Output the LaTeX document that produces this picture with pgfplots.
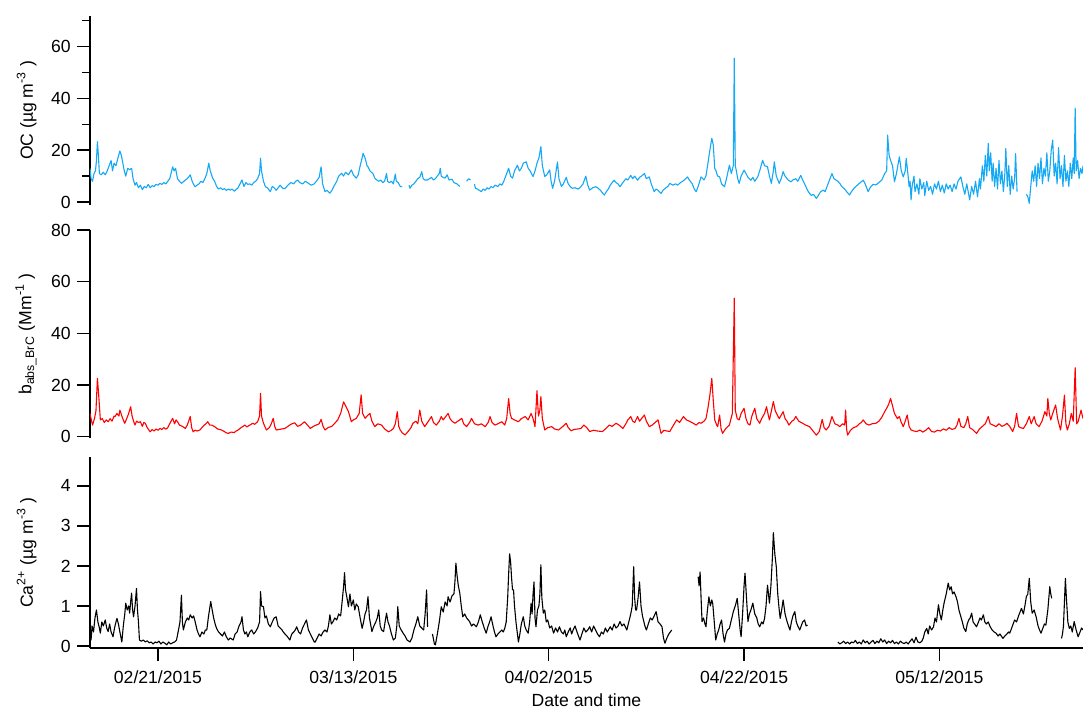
\documentclass[border=0pt]{standalone}
\usepackage{fontspec}
\setmainfont{Liberation Sans}
\usepackage{pgfplots}
\pgfplotsset{compat=1.18}
\definecolor{ocblue}{RGB}{20,168,245}
\pgfplotsset{
  panel/.style={
    scale only axis, width=496.5pt,
    xmin=-6.96, xmax=94.7,
    axis lines*=left,
    axis line style={line width=1pt, black},
    tick align=outside,
    major tick length=6.5pt, minor tick length=4pt,
    tick style={line width=0.75pt, black},
    font=\fontsize{8.8}{10.5}\selectfont,
    /pgf/number format/assume math mode=true,
    yticklabel style={anchor=east, inner sep=0pt, xshift=-3pt},
    every axis y label/.style={at={(axis description cs:0,0.5)}, rotate=90, anchor=south, inner sep=0pt, yshift=26.5pt},
    unbounded coords=jump,
  },
  series/.style={no marks, line width=0.55pt, line join=round},
}
\begin{document}
\begin{tikzpicture}
\useasboundingbox (0,0) rectangle (541.5pt,354pt);
% ---------------- OC ----------------
\begin{axis}[panel, at={(45pt,251.7pt)}, anchor=south west, height=94.3pt,
  ymin=-1, ymax=71.8, ytick={0,20,40,60}, minor ytick={10,30,50,70},
  xtick=\empty, x axis line style={draw=none},
  ylabel={OC (µg m\textsuperscript{-3} )}]
\addplot[series, ocblue] table {
-6.96 13
-6.85 9
-6.7 8
-6.55 11
-6.4 12
-6.3 16
-6.2 23.3
-6.1 18
-6.0 11
-5.8 10.5
-5.6 11.5
-5.4 10.5
-5.2 12
-5.0 14
-4.8 16
-4.65 12
-4.5 15
-4.3 14
-4.1 17
-3.9 19.7
-3.75 18
-3.6 15
-3.45 12
-3.3 10
-3.1 13
-2.9 12.5
-2.7 13
-2.55 9
-2.35 6.5
-2.2 7.5
-2.0 5.5
-1.8 6.5
-1.6 4.8
-1.4 6
-1.2 5.5
-1.0 6.8
-0.8 5.5
-0.6 6.3
-0.4 6
-0.2 6.8
0.0 6.5
0.2 7.2
0.4 6.8
0.6 7.5
0.8 7
1.0 8
1.2 9
1.4 12
1.5 13.6
1.65 12
1.8 13
2.0 9
2.2 8
2.4 7.2
2.6 7.8
2.8 8.5
3.0 9
3.2 10
3.3 10.5
3.5 8
3.65 6.8
3.8 5.9
4.0 6.5
4.2 7
4.4 8
4.6 7.5
4.8 9
5.0 11
5.2 15
5.35 12
5.6 9.2
5.8 8
6.0 6
6.2 5
6.4 5.5
6.6 4.8
6.8 5.2
7.0 4.5
7.2 5
7.4 4.6
7.6 5
7.8 4.2
8.0 4.8
8.2 5.5
8.4 7
8.6 8.5
8.8 6
9.0 7.5
9.2 6.8
9.4 7
9.6 6.5
9.8 7.5
10.0 8
10.2 9
10.4 11
10.5 16.9
10.6 12
10.8 8
11.0 5.9
11.2 5.5
11.5 4
11.7 6
11.9 5.5
12.1 4.5
12.3 5.5
12.5 6.5
12.8 5.2
13.0 5.2
13.3 6.5
13.6 7.5
13.9 7
14.1 8
14.3 8.5
14.5 7.5
14.8 7
15.1 8
15.4 7.2
15.7 6.5
16.0 7
16.3 8.5
16.5 9.5
16.7 13.6
16.85 7
17.1 4
17.3 4.5
17.6 3.4
17.8 4.5
18.0 6
18.3 8
18.5 10
18.8 11.1
19.0 10
19.2 11.5
19.5 10.5
19.8 12.4
20.0 10.5
20.3 9.2
20.5 10.5
20.7 14
20.9 17
21.0 18.8
21.2 17
21.4 14
21.5 13.6
21.7 12
22.0 11
22.2 9.2
22.4 8.5
22.6 8
22.8 8.5
23.0 7.5
23.2 8
23.4 11
23.5 8
23.7 7.5
23.9 8
24.1 7
24.3 10.8
24.4 8
24.6 7.5
24.8 6
25.0 5.9
nan nan
25.7 6.5
25.8 5.3
26.0 6.5
26.2 7
26.4 8
26.6 9
26.8 9.5
27.0 11.7
27.15 9
27.3 8.5
27.6 8.5
27.8 9
28.0 9.5
28.2 8.5
28.4 9
28.6 10
28.8 11
28.9 13
29.0 10
29.2 9.5
29.4 9.2
29.6 10.5
29.8 8.5
30.1 8.8
30.3 7.5
30.6 7
30.9 6
nan nan
31.6 8
31.8 9
32.0 8.5
nan nan
32.4 7
32.5 5.3
32.7 5
32.9 4.5
33.1 4
33.3 5
33.5 4.5
33.7 5.5
33.9 5
34.1 6
34.3 5.5
34.5 6.5
34.8 6
35.0 7
35.2 6.5
35.4 8
35.6 10
35.9 13
36.1 10
36.3 9.2
36.5 12
36.8 14.2
37.0 12
37.2 13
37.4 15
37.7 15.5
37.9 13
38.1 12
38.4 9.8
38.6 12
38.8 15
39.0 17
39.2 21.4
39.35 14
39.6 9.8
39.8 10.5
40.1 12.4
40.25 8
40.4 5.3
40.6 8
40.9 15.5
41.05 9
41.3 6
41.5 7
41.8 9.5
42.0 7
42.2 6
42.4 5.3
42.7 5.5
43.0 5
43.2 5.5
43.5 6.9
43.8 10
44.0 6.5
44.2 4.6
44.5 5.5
44.8 5.9
45.0 5.5
45.3 4.5
45.5 3.5
45.7 2.7
45.9 4
46.1 5
46.3 6.5
46.5 7.5
46.7 8.4
46.9 7.5
47.1 7
47.3 5.9
47.5 7
47.7 8
47.9 9
48.1 8.5
48.4 10.3
48.6 9
48.8 10
49.1 8.4
49.3 9.5
49.5 10
49.8 11
50.0 9
50.3 9.7
50.5 7
50.8 4
51.0 5
51.2 4.5
51.5 3.3
51.7 4.5
52.0 5.5
52.2 6
52.4 7.2
52.7 6.5
53.0 7
53.2 6.5
53.4 7.2
53.7 8
53.9 8.5
54.2 9.7
54.4 8.5
54.7 7
54.9 5
55.1 4
55.3 6
55.6 9.7
55.9 8.5
56.1 10
56.3 14.9
56.5 20
56.7 24.6
56.85 22
57.0 13
57.1 12.3
57.3 10
57.5 9.7
57.7 7
58.0 5.9
58.2 9
58.5 14.2
58.7 11
58.9 14
59.0 55.5
59.1 14
59.2 12.3
59.35 9
59.5 7.2
59.7 10
60.0 12.3
60.2 11
60.4 9.5
60.7 8.4
60.9 9.5
61.1 8
61.4 9.7
61.6 12
61.9 16.1
62.1 14
62.4 13.6
62.6 10
62.8 7.2
63.0 12
63.1 15.5
63.3 10
63.6 7.2
63.8 9
64.0 11.7
64.2 10
64.5 8.5
64.8 7.8
65.0 8.5
65.3 9
65.5 8
65.8 10.3
66.0 8.5
66.2 7
66.5 4.5
66.7 3.3
66.9 2.5
67.1 3
67.4 1.4
67.6 2.5
67.8 3.8
68.1 4.6
68.3 4
68.5 6
68.7 8
69.0 11
69.2 9
69.4 8.5
69.6 8
69.8 7.2
70.0 6
70.3 5
70.5 4
70.8 2.7
71.0 4
71.3 5.5
71.6 6.5
71.9 7.5
72.2 8.4
72.4 7
72.7 4
72.9 5.5
73.2 6.8
73.5 6.6
73.8 7.5
74.1 8.5
74.4 11
74.6 12
74.7 25.8
74.85 18
75.0 16.1
75.2 14
75.4 7.8
75.6 11
75.9 17.4
76.1 12
76.3 9.7
76.5 12
76.6 16.8
76.8 10
76.9 5.9
77.0 8
77.1 0.8
77.2 6
77.4 10
77.5 4
77.7 7
77.9 3
78.0 9
78.2 5
78.4 7.5
78.5 2.5
78.7 8
78.9 4.5
79.1 6
79.3 3
79.5 7
79.7 5
79.9 8
80.1 4
80.3 6.5
80.5 3.5
80.7 7
80.9 5
81.1 6.5
81.3 4
81.5 7
81.7 5
81.9 8
82.2 9.7
82.4 6
82.6 3
82.8 7
83.1 0.8
83.3 6
83.5 3
83.7 8
83.9 2
84.1 9
84.2 5
84.4 14
84.55 8
84.7 18
84.85 10
85.0 22.6
85.1 12
85.25 19
85.4 8
85.5 15
85.65 6
85.8 13
85.95 5
86.1 16
86.25 7
86.4 12
86.55 4
86.7 11
86.8 20.7
86.95 6
87.1 14
87.25 3
87.4 10
87.55 5
87.7 9
87.8 18.7
87.95 4
nan nan
88.9 3
89.05 2
89.2 -0.5
89.35 6
89.5 12
89.65 8
89.8 14
89.95 6
90.1 15
90.25 9
90.4 17
90.55 7
90.7 13
90.85 10
91.0 19
91.15 8
91.3 12
91.45 20
91.6 23.9
91.75 10
91.9 15
92.05 7
92.2 21
92.35 9
92.5 14
92.65 6
92.8 18
92.95 8
93.1 12
93.25 6
93.4 15
93.55 9
93.7 17
93.8 11
93.9 36.2
94.0 12
94.15 16
94.3 9
94.45 13
94.6 11
94.7 14
};
\end{axis}
% ---------------- b_abs_BrC ----------------
\begin{axis}[panel, at={(45pt,135pt)}, anchor=south west, height=104pt,
  ymin=-0.5, ymax=80, ytick={0,20,40,60,80},
  xtick=\empty, x axis line style={draw=none},
  ylabel={b\textsubscript{abs\_BrC} (Mm\textsuperscript{-1} )}]
\addplot[series, red] table {
-6.96 9
-6.8 6
-6.7 4.5
-6.5 7
-6.35 10
-6.2 22.6
-6.05 15
-5.9 6.5
-5.7 7
-5.5 5.5
-5.3 6.5
-5.1 5.8
-4.9 7
-4.7 6
-4.5 8
-4.4 7.8
-4.2 9
-4.0 8
-3.9 10.3
-3.7 8
-3.5 6
-3.4 5.2
-3.2 7
-3.0 9
-2.8 11.6
-2.65 8
-2.5 6
-2.35 4.5
-2.2 6
-2.0 5.5
-1.8 5.8
-1.6 4
-1.45 5.5
-1.3 5.2
-1.1 3.5
-0.8 1.9
-0.6 2.8
-0.4 2.2
-0.2 3
0.0 2.5
0.2 3.2
0.4 2.8
0.6 3.5
0.8 2.9
1.0 3.5
1.2 5
1.5 7.1
1.7 5
1.85 6.5
2.0 5.8
2.2 4.5
2.5 4
2.8 3.2
3.0 4.5
3.3 7.8
3.45 3.5
3.6 1.9
3.8 2.5
4.0 2.2
4.3 2.6
4.6 4
4.9 5
5.1 5.8
5.3 4.5
5.5 4.5
5.8 3.9
6.1 3
6.5 2.6
6.8 2
7.0 1.5
7.2 1.3
7.5 1.8
7.8 1.6
8.0 2.2
8.2 2.6
8.5 3.5
8.9 4.5
9.1 3.8
9.4 4.5
9.7 5.2
9.9 4.8
10.2 5.8
10.4 8
10.5 16.8
10.6 8
10.8 5.2
11.1 2.6
11.4 3.5
11.6 5
11.8 7.1
11.95 4
12.1 2.6
12.4 2.8
12.7 3
13.0 3.2
13.3 4
13.6 4.8
14.0 5.4
14.3 4
14.6 4.5
15.0 5.8
15.3 4.5
15.6 3.2
15.9 4
16.2 4.5
16.5 5
16.7 6.7
16.9 4
17.1 2.6
17.4 3.5
17.8 4
18.1 5.2
18.4 6.5
18.7 9
19.0 13.5
19.2 12
19.5 9.7
19.8 5.8
20.0 6.5
20.3 7.1
20.6 9
20.8 16.2
20.95 9
21.2 7.1
21.4 8
21.7 9
21.9 6
22.2 3.9
22.5 5
22.9 4.5
23.2 3
23.6 1.9
23.9 2.5
24.1 3.2
24.3 5
24.5 9.7
24.65 4
24.8 2.6
25.0 1.5
25.3 0.7
25.6 2
25.9 3.5
26.1 5.2
26.4 6
26.6 5
26.8 10.3
27.0 6
27.3 3.9
27.6 5.5
28.0 7.8
28.2 5.5
28.5 4.5
28.8 6
29.0 7.8
29.2 6.5
29.5 8
29.7 9
29.9 7
30.1 6
30.4 5.2
30.7 6
31.1 7.1
31.3 5
31.6 3.9
31.9 5.5
32.1 7.1
32.4 5
32.8 4.5
33.1 5
33.5 3.9
33.8 5.5
34.0 7.8
34.2 5.5
34.5 4.5
34.8 5
35.2 5.8
35.5 4.5
35.7 7
35.9 14.8
36.05 9
36.2 7.1
36.5 6.5
36.9 5.8
37.2 7
37.6 7.8
37.9 6.5
38.2 9
38.4 7
38.6 3.9
38.8 17.8
38.95 8
39.1 10.3
39.2 15.5
39.35 7
39.6 2.6
39.9 3.5
40.3 3.9
40.6 3
41.0 2.6
41.3 3.5
41.6 4.5
41.8 5.2
42.0 3.5
42.3 2.3
42.6 2.8
43.0 3
43.3 3.2
43.6 4.5
43.9 3.5
44.2 2
44.6 2.5
45.0 2.2
45.5 2
45.8 3
46.2 4.5
46.5 4
46.9 5.2
47.2 4.5
47.6 3.2
47.9 5
48.1 6.5
48.4 7.8
48.6 6
48.8 5.5
49.1 7.8
49.3 6
49.5 7
49.8 8.4
50.0 6
50.3 3.9
50.6 4.5
50.9 5.5
51.2 6.5
51.5 1.3
51.8 2.5
52.1 2.2
52.4 2
52.7 4
53.1 6.5
53.4 5.5
53.8 7.8
54.1 6.5
54.4 6
54.8 5.2
55.1 4.5
55.4 5.5
55.6 5.2
55.9 6
56.1 7
56.3 11
56.5 16
56.7 22.6
56.85 14
57.0 6.5
57.2 4.5
57.3 3.9
57.5 8.4
57.65 3
57.8 1.3
58.1 3
58.5 4.5
58.8 9
59.0 53.6
59.1 10.3
59.3 7
59.5 6.5
59.7 9
60.0 11
60.2 7
60.4 5
60.6 4.5
60.8 8
61.1 11
61.3 7
61.6 5.2
61.8 7
62.1 9
62.3 11.6
62.5 8
62.6 6.5
62.8 10
63.0 13.6
63.2 10
63.4 8.4
63.6 7
64.0 9.7
64.2 7
64.4 6
64.6 4.5
64.9 6
65.1 6.5
65.3 7.8
65.6 6
66.0 5.2
66.3 4.5
66.7 3.9
67.0 2.5
67.4 0.6
67.7 2
68.0 6.7
68.2 3.5
68.4 2.6
68.7 4
69.0 7.8
69.3 5
69.6 4.5
69.8 3.9
70.1 5
70.3 4.5
70.4 10.3
70.5 3
70.6 0.6
70.9 2.5
71.2 3.5
71.5 3.9
71.8 5
72.0 5.5
72.2 6.5
72.5 5
72.8 4.5
73.1 5
73.5 5.2
73.8 6
74.1 7.5
74.4 9.7
74.6 11
74.8 12.5
75.0 14.8
75.2 12
75.4 9
75.7 7
75.9 7.8
76.1 5.5
76.3 3.9
76.5 6
76.7 8.4
76.9 4
77.1 2.6
77.4 2.2
77.7 2
78.0 2.6
78.3 1.8
78.6 2.5
78.9 3.5
79.2 2
79.5 1.8
79.8 2.5
80.1 2.2
80.4 3
80.7 2.5
81.0 3.5
81.3 2.8
81.6 3.2
81.8 4.5
82.0 7.1
82.2 4
82.5 3.5
82.7 5
82.9 7.8
83.1 3.5
83.4 2.8
83.8 1.3
84.1 3
84.4 4
84.7 5
85.0 7.8
85.2 5
85.5 4.5
85.8 3.9
86.1 5
86.4 4
86.7 4.5
86.9 5.2
87.2 4
87.5 2
87.7 4
87.9 9
88.1 4
88.3 3.5
88.6 3.2
88.9 5
89.2 7.8
89.4 5
89.7 7.8
89.9 5
90.2 3.9
90.5 6
90.8 9.7
91.0 8
91.1 14.8
91.25 9
91.4 6.5
91.6 9
91.9 12.3
92.1 7
92.4 2.6
92.6 8
92.8 16.1
92.95 5
93.1 2.6
93.3 5
93.5 9
93.7 6
93.9 26.7
94.05 5
94.2 5.8
94.35 8
94.5 10.3
94.7 7
};
\end{axis}
% ---------------- Ca2+ ----------------
\begin{axis}[panel, at={(45pt,30pt)}, anchor=south west, height=95.5pt,
  ymin=-0.05, ymax=4.72, ytick={0,1,2,3,4},
  xtick={0,20,40,60,80},
  xticklabels={02/21/2015,03/13/2015,04/02/2015,04/22/2015,05/12/2015},
  xticklabel style={anchor=base, yshift=-11pt},
  xlabel={Date and time},
  xlabel style={at={(axis description cs:0.5,0)}, anchor=base, yshift=-29pt},
  ylabel={Ca\textsuperscript{2+} (µg m\textsuperscript{-3} )}]
\addplot[series, black] table {
-6.96 0.4
-6.85 0.15
-6.75 0.5
-6.6 0.35
-6.45 0.7
-6.3 0.9
-6.15 0.6
-6.0 0.45
-5.9 0.32
-5.75 0.6
-5.6 0.5
-5.4 0.65
-5.25 0.45
-5.1 0.36
-4.95 0.55
-4.8 0.35
-4.6 0.23
-4.45 0.45
-4.3 0.6
-4.2 0.69
-4.05 0.55
-3.9 0.35
-3.7 0.1
-3.55 0.5
-3.4 0.8
-3.3 1.07
-3.15 0.9
-3.0 1.0
-2.9 0.82
-2.8 1.1
-2.7 1.32
-2.6 0.9
-2.5 0.73
-2.35 1.0
-2.2 1.44
-2.1 0.9
-2.0 0.61
-1.9 0.15
-1.7 0.12
-1.5 0.15
-1.3 0.1
-1.1 0.13
-0.9 0.08
-0.7 0.1
-0.5 0.05
-0.3 0.1
-0.1 0.08
0.1 0.12
0.3 0.05
0.5 0.1
0.7 0.07
0.9 0.03
1.1 0.1
1.3 0.05
1.5 0.08
1.7 0.1
1.9 0.15
2.1 0.4
2.25 0.6
2.4 1.27
2.5 0.6
2.6 0.4
2.8 0.6
3.0 0.7
3.15 0.65
3.3 0.78
3.5 0.7
3.65 0.75
3.8 0.61
4.0 0.4
4.15 0.3
4.3 0.23
4.5 0.35
4.7 0.3
4.85 0.4
5.0 0.4
5.15 0.7
5.3 0.95
5.4 1.11
5.55 0.9
5.7 0.7
5.85 0.55
6.0 0.44
6.2 0.35
6.4 0.3
6.6 0.25
6.8 0.35
7.0 0.23
7.2 0.15
7.4 0.2
7.7 0.15
7.9 0.3
8.1 0.35
8.3 0.5
8.5 0.6
8.6 0.73
8.75 0.4
8.9 0.3
9.05 0.35
9.2 0.23
9.4 0.35
9.6 0.4
9.8 0.3
10.0 0.36
10.2 0.45
10.4 0.6
10.5 1.36
10.6 1.0
10.8 0.98
10.95 0.7
11.1 0.75
11.3 0.55
11.5 0.48
11.7 0.6
11.9 0.7
12.1 0.73
12.3 0.5
12.5 0.45
12.7 0.4
12.8 0.36
13.0 0.3
13.2 0.25
13.35 0.2
13.5 0.15
13.7 0.3
13.9 0.35
14.05 0.4
14.2 0.48
14.4 0.35
14.6 0.3
14.8 0.45
15.0 0.55
15.2 0.65
15.4 0.4
15.6 0.3
15.8 0.2
16.0 0.1
16.1 0.1
16.3 0.2
16.5 0.3
16.7 0.25
16.9 0.35
17.1 0.4
17.3 0.35
17.45 0.5
17.6 0.78
17.75 0.55
17.9 0.6
18.1 0.7
18.3 0.65
18.5 0.8
18.7 0.75
18.85 1.1
19.0 1.48
19.1 1.83
19.2 1.4
19.35 1.2
19.5 0.98
19.65 1.3
19.8 1.0
20.0 1.15
20.15 0.9
20.3 1.05
20.5 0.98
20.7 0.7
20.9 0.44
21.05 0.6
21.2 0.8
21.35 0.9
21.5 1.23
21.65 0.7
21.8 0.5
21.9 0.36
22.1 0.5
22.3 0.6
22.45 0.7
22.6 0.9
22.75 0.5
22.9 0.4
23.1 0.36
23.25 0.6
23.4 0.82
23.55 0.6
23.7 0.5
23.9 0.3
24.1 0.15
24.3 0.2
24.45 0.5
24.55 0.98
24.7 0.5
24.9 0.4
25.1 0.32
25.3 0.25
25.5 0.15
25.8 0.1
26.0 0.2
26.2 0.4
26.4 0.55
26.6 0.73
26.8 0.5
27.0 0.45
27.2 0.4
27.35 0.8
27.5 1.4
27.6 0.48
nan nan
28.1 0.3
28.3 0.05
28.4 0.03
28.6 0.3
28.8 0.6
29.0 0.98
29.2 0.85
29.4 1.1
29.6 1.0
29.7 1.23
29.9 1.1
30.1 1.25
30.3 1.3
30.4 1.6
30.5 2.07
30.6 1.8
30.75 1.5
30.9 1.32
31.05 1.0
31.2 0.73
31.4 0.8
31.6 0.7
31.9 0.61
32.1 0.5
32.3 0.55
32.6 0.48
32.8 0.6
33.0 0.78
33.2 0.6
33.4 0.45
33.6 0.32
33.8 0.5
33.95 0.6
34.1 0.73
34.3 0.5
34.45 0.35
34.6 0.23
34.8 0.3
35.0 0.35
35.2 0.4
35.35 0.35
35.5 0.44
35.65 0.6
35.8 1.2
35.9 1.8
36.0 2.3
36.1 2.1
36.2 1.7
36.3 1.4
36.4 1.4
36.5 1.0
36.65 0.6
36.8 0.3
36.9 0.1
37.05 0.3
37.2 0.55
37.4 0.73
37.55 0.5
37.7 0.4
37.9 0.32
38.05 0.6
38.2 1.07
38.3 0.8
38.4 1.3
38.5 1.6
38.6 0.7
38.7 0.48
38.85 0.9
39.0 1.0
39.1 1.3
39.2 2.03
39.3 1.2
39.45 0.82
39.6 0.9
39.75 0.6
39.9 0.65
40.1 0.45
40.3 0.5
40.5 0.32
40.7 0.45
40.9 0.35
41.1 0.48
41.3 0.35
41.5 0.3
41.65 0.4
41.8 0.23
42.0 0.35
42.2 0.45
42.35 0.3
42.5 0.4
42.7 0.5
42.9 0.35
43.05 0.25
43.2 0.15
43.4 0.3
43.6 0.45
43.8 0.35
44.0 0.4
44.2 0.48
44.4 0.35
44.6 0.5
44.8 0.4
45.0 0.3
45.2 0.23
45.4 0.35
45.6 0.3
45.8 0.45
46.0 0.35
46.3 0.48
46.5 0.4
46.7 0.55
46.9 0.45
47.1 0.5
47.3 0.61
47.5 0.5
47.7 0.55
47.9 0.45
48.0 0.4
48.2 0.6
48.4 0.8
48.55 1.0
48.7 1.98
48.8 1.2
48.9 0.9
49.0 0.9
49.15 1.2
49.3 1.6
49.45 1.0
49.6 0.75
49.7 0.65
49.85 0.5
50.0 0.4
50.2 0.55
50.4 0.7
50.6 0.65
50.8 0.75
51.0 0.86
51.2 0.6
51.4 0.55
51.6 0.48
51.75 0.2
51.9 0.07
52.1 0.2
52.3 0.3
52.45 0.35
52.6 0.4
nan nan
55.3 1.73
55.4 1.5
55.5 1.85
55.6 1.2
55.7 0.61
55.85 0.7
56.0 0.55
56.1 0.48
56.25 0.9
56.4 1.23
56.55 1.0
56.7 1.15
56.8 1.05
56.95 0.6
57.1 0.15
57.25 0.3
57.4 0.4
57.55 0.55
57.7 0.65
57.85 0.3
58.0 0.1
58.15 0.3
58.3 0.4
58.5 0.44
58.65 0.6
58.8 0.75
58.9 0.86
59.1 1.0
59.3 1.19
59.45 0.8
59.6 0.4
59.7 0.23
59.85 0.8
60.0 1.5
60.1 1.82
60.25 1.2
60.4 0.61
60.55 0.8
60.7 0.9
60.9 1.07
61.1 0.8
61.3 0.7
61.45 0.55
61.6 0.48
61.8 0.6
61.95 0.55
62.1 0.69
62.25 1.0
62.4 1.52
62.5 1.3
62.6 1.07
62.75 1.5
62.9 2.2
63.0 2.83
63.15 2.3
63.3 1.98
63.45 1.3
63.6 0.9
63.7 0.69
63.85 0.9
64.0 1.15
64.2 0.8
64.4 0.61
64.55 0.5
64.7 0.4
64.85 0.6
65.0 0.75
65.2 0.86
65.35 0.6
65.5 0.5
65.7 0.4
65.85 0.5
66.0 0.6
66.2 0.65
66.35 0.5
66.5 0.52
nan nan
69.6 0.1
69.8 0.05
70.0 0.08
70.2 0.12
70.4 0.06
70.6 0.1
70.8 0.05
71.0 0.1
71.2 0.08
71.4 0.14
71.6 0.06
71.8 0.1
72.0 0.05
72.2 0.15
72.4 0.08
72.6 0.12
72.8 0.05
73.0 0.1
73.2 0.14
73.4 0.06
73.6 0.12
73.8 0.08
74.0 0.18
74.2 0.1
74.4 0.15
74.6 0.06
74.8 0.12
75.0 0.08
75.2 0.14
75.4 0.06
75.6 0.1
75.8 0.05
76.0 0.12
76.2 0.08
76.4 0.06
76.6 0.1
76.8 0.05
77.0 0.12
77.2 0.18
77.4 0.08
77.6 0.22
77.8 0.1
78.0 0.08
78.2 0.12
78.35 0.2
78.5 0.35
78.7 0.44
78.85 0.3
79.0 0.5
79.2 0.4
79.4 0.48
79.55 0.7
79.7 0.6
79.9 1.03
80.05 0.8
80.2 0.65
80.35 0.9
80.5 1.1
80.7 1.3
80.9 1.57
81.05 1.4
81.2 1.48
81.35 1.3
81.5 1.35
81.7 1.23
81.85 1.1
82.0 0.9
82.2 0.73
82.35 0.6
82.5 0.45
82.7 0.36
82.85 0.55
83.0 0.65
83.15 0.7
83.3 0.82
83.45 0.6
83.6 0.55
83.8 0.48
84.0 0.6
84.15 0.7
84.3 0.65
84.5 0.78
84.65 0.6
84.8 0.55
85.0 0.6
85.2 0.48
85.4 0.4
85.6 0.35
85.8 0.32
86.0 0.25
86.2 0.3
86.5 0.19
86.7 0.25
86.9 0.3
87.1 0.35
87.2 0.32
87.4 0.45
87.7 0.65
87.9 0.6
88.1 0.75
88.4 0.94
88.6 0.8
88.75 1.0
88.9 1.23
89.05 1.3
89.2 1.69
89.35 1.1
89.5 0.82
89.7 0.9
89.9 0.73
90.1 0.5
90.25 0.4
90.4 0.32
90.6 0.45
90.75 0.55
90.9 0.52
91.1 0.9
91.3 1.48
91.4 1.3
91.5 1.19
nan nan
92.5 0.19
92.6 0.3
92.7 0.5
92.8 1.1
92.9 1.69
93.0 1.2
93.15 0.6
93.3 0.44
93.45 0.5
93.6 0.35
93.8 0.61
94.0 0.4
94.2 0.23
94.4 0.35
94.55 0.45
94.7 0.4
};
\end{axis}
\end{tikzpicture}
\end{document}
